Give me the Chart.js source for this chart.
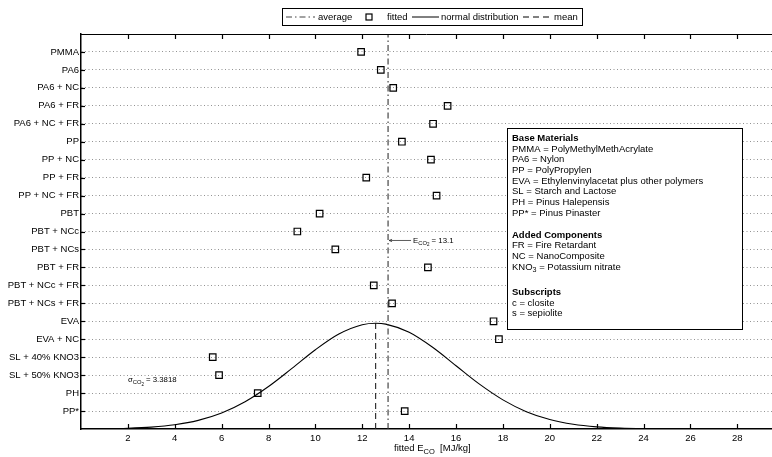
<!DOCTYPE html>
<html>
<head>
<meta charset="utf-8">
<script src="https://cdn.jsdelivr.net/npm/chart.js@4.4.0/dist/chart.umd.min.js"></script>
<style>
body { margin: 0; background: #fff; }
#wrap { width: 772px; height: 457px; position: relative; }
</style>
</head>
<body>
<div id="wrap"><canvas id="ecoChart"></canvas></div>
<script>
"use strict";

// Materials, top to bottom
var materials = ['PMMA', 'PA6', 'PA6 + NC', 'PA6 + FR', 'PA6 + NC + FR', 'PP', 'PP + NC', 'PP + FR',
    'PP + NC + FR', 'PBT', 'PBT + NCc', 'PBT + NCs', 'PBT + FR', 'PBT + NCc + FR', 'PBT + NCs + FR',
    'EVA', 'EVA + NC', 'SL + 40% KNO3', 'SL + 50% KNO3', 'PH', 'PP*'];

// Fitted E_CO [MJ/kg] for each material
var fittedEco = [11.95, 12.79, 13.32, 15.64, 15.02, 13.69, 14.93, 12.17,
    15.17, 10.18, 9.23, 10.85, 14.80, 12.49, 13.27,
    17.60, 17.83, 5.62, 5.89, 7.54, 13.81];

var averageEco = 13.1;
var meanEco = 12.57;
var sigmaEco = 3.3818;
var curvePeak = 5.89;

// Normal distribution curve as drawn (heights in row units)
var curveX = [0, 1, 2, 3, 4, 5, 6, 7, 8, 9, 10, 11, 12, 12.57, 13, 14, 15, 16, 17, 18, 19, 20, 21, 22, 23, 24, 25];
var curveY = [0.006, 0.017, 0.045, 0.107, 0.237, 0.481, 0.892, 1.517, 2.364, 3.374, 4.413, 5.288, 5.807, 5.89,
    5.842, 5.386, 4.550, 3.522, 2.497, 1.623, 0.966, 0.527, 0.263, 0.121, 0.051, 0.019, 0.007];

var xTicks = [2, 4, 6, 8, 10, 12, 14, 16, 18, 20, 22, 24, 26, 28];
var legendLabels = ['average', 'fitted', 'normal distribution', 'mean'];

var baseMaterials = ['PMMA = PolyMethylMethAcrylate', 'PA6 = Nylon', 'PP = PolyPropylen',
    'EVA = Ethylenvinylacetat plus other polymers', 'SL = Starch and Lactose',
    'PH = Pinus Halepensis', 'PP* = Pinus Pinaster'];
var addedComponents = ['FR = Fire Retardant', 'NC = NanoComposite', 'KNO_3 = Potassium nitrate'];
var subscriptNotes = ['c = closite', 's = sepiolite'];

var FONT = '"Liberation Sans", Arial, Helvetica, sans-serif';
var rowCount = materials.length;

// draw text pieces one after another, returns end x
function drawParts(ctx, x, y, parts) {
    for (var i = 0; i < parts.length; i++) {
        var p = parts[i];
        ctx.font = (p.bold ? 'bold ' : '') + p.size + 'px ' + FONT;
        ctx.fillText(p.text, x, y + (p.dy || 0));
        x += ctx.measureText(p.text).width;
    }
    return x;
}

function lineParts(text, size, bold) {
    var k = text.indexOf('_');
    if (k < 0) return [{ text: text, size: size, bold: bold }];
    return [
        { text: text.slice(0, k), size: size, bold: bold },
        { text: text.charAt(k + 1), size: size * 0.75, dy: 3.5 },
        { text: text.slice(k + 2), size: size, bold: bold }
    ];
}

function drawLegend(ctx) {
    ctx.save();
    ctx.fillStyle = '#fff';
    ctx.fillRect(282, 8, 300, 17);
    ctx.strokeStyle = '#000';
    ctx.lineWidth = 1;
    ctx.strokeRect(282.5, 8.5, 300, 17);
    var cy = 17;
    // average (dash-dot)
    ctx.setLineDash([6, 3, 1.5, 3]);
    ctx.strokeStyle = '#444';
    ctx.beginPath(); ctx.moveTo(286, cy); ctx.lineTo(315, cy); ctx.stroke();
    // normal distribution (solid)
    ctx.setLineDash([]);
    ctx.strokeStyle = '#000';
    ctx.beginPath(); ctx.moveTo(412, cy); ctx.lineTo(439, cy); ctx.stroke();
    // mean (dashed)
    ctx.setLineDash([6, 4]);
    ctx.beginPath(); ctx.moveTo(523, cy); ctx.lineTo(551, cy); ctx.stroke();
    ctx.setLineDash([]);
    // fitted marker
    ctx.lineWidth = 1.2;
    ctx.strokeRect(366, cy - 3, 6, 6);
    ctx.fillStyle = '#000';
    ctx.textBaseline = 'middle';
    ctx.font = '9.5px ' + FONT;
    ctx.fillText(legendLabels[0], 318, cy);
    ctx.fillText(legendLabels[1], 387, cy);
    ctx.fillText(legendLabels[2], 441, cy);
    ctx.fillText(legendLabels[3], 554, cy);
    ctx.restore();
}

function drawInfoBox(ctx) {
    ctx.save();
    ctx.fillStyle = '#fff';
    ctx.fillRect(507, 128, 235, 201);
    ctx.strokeStyle = '#000';
    ctx.lineWidth = 1;
    ctx.strokeRect(507.5, 128.5, 235, 201);
    ctx.fillStyle = '#000';
    ctx.textBaseline = 'middle';
    var lh = 10.67;
    var x0 = 512;
    var y = 138.3;
    drawParts(ctx, x0, y, lineParts('Base Materials', 9.5, true));
    baseMaterials.forEach(function (t, i) { drawParts(ctx, x0, y + (i + 1) * lh, lineParts(t, 9.5)); });
    y = 235;
    drawParts(ctx, x0, y, lineParts('Added Components', 9.5, true));
    addedComponents.forEach(function (t, i) { drawParts(ctx, x0, y + (i + 1) * lh, lineParts(t, 9.5)); });
    y = 292.3;
    drawParts(ctx, x0, y, lineParts('Subscripts', 9.5, true));
    subscriptNotes.forEach(function (t, i) { drawParts(ctx, x0, y + (i + 1) * lh, lineParts(t, 9.5)); });
    ctx.restore();
}

var decorPlugin = {
    id: 'decor',
    afterDatasetsDraw: function (chart) {
        var ctx = chart.ctx;
        var area = chart.chartArea;
        var xs = chart.scales.x;
        var ys = chart.scales.y;
        ctx.save();
        // top frame line
        ctx.strokeStyle = '#000';
        ctx.lineWidth = 1;
        ctx.beginPath(); ctx.moveTo(area.left, area.top + 0.5); ctx.lineTo(area.right, area.top + 0.5); ctx.stroke();
        // inward tick marks
        ctx.lineWidth = 1.2;
        xTicks.forEach(function (v) {
            var px = Math.round(xs.getPixelForValue(v)) + 0.5;
            ctx.beginPath();
            ctx.moveTo(px, area.bottom); ctx.lineTo(px, area.bottom - 5);
            ctx.moveTo(px, area.top); ctx.lineTo(px, area.top + 5);
            ctx.stroke();
        });
        for (var r = 1; r <= rowCount; r++) {
            var py = Math.round(ys.getPixelForValue(r)) + 0.5;
            ctx.beginPath(); ctx.moveTo(area.left, py); ctx.lineTo(area.left + 4, py); ctx.stroke();
        }

        // E_CO2 annotation with leader arrow
        ctx.lineWidth = 0.8;
        ctx.strokeStyle = '#333';
        var ax = xs.getPixelForValue(averageEco) + 1;
        var ay = ys.getPixelForValue(10.5);
        ctx.beginPath(); ctx.moveTo(ax, ay); ctx.lineTo(ax + 22, ay); ctx.stroke();
        ctx.beginPath(); ctx.moveTo(ax, ay); ctx.lineTo(ax + 3, ay - 1.2); ctx.moveTo(ax, ay); ctx.lineTo(ax + 3, ay + 1.2); ctx.stroke();
        ctx.fillStyle = '#000';
        ctx.textBaseline = 'middle';
        drawParts(ctx, ax + 24, ay, [
            { text: 'E', size: 7.8 },
            { text: 'CO', size: 5.8, dy: 2.5 },
            { text: '2', size: 4.5, dy: 4.5 },
            { text: ' = ' + averageEco, size: 7.8 }
        ]);

        // sigma annotation
        drawParts(ctx, xs.getPixelForValue(2.0), ys.getPixelForValue(2.73), [
            { text: '\u03c3', size: 7.8 },
            { text: 'CO', size: 5.8, dy: 2.5 },
            { text: '2', size: 4.5, dy: 4.5 },
            { text: ' = ' + sigmaEco, size: 7.8 }
        ]);

        drawInfoBox(ctx);
        ctx.restore();
    },
    afterDraw: function (chart) {
        var ctx = chart.ctx;
        ctx.save();
        ctx.fillStyle = '#000';
        ctx.textBaseline = 'middle';
        // x axis title with subscript
        drawParts(ctx, 394, 448, [
            { text: 'fitted E', size: 9.5 },
            { text: 'CO', size: 7.5, dy: 3.5 },
            { text: '  [MJ/kg]', size: 9.5 }
        ]);
        drawLegend(ctx);
        ctx.restore();
    }
};

var fittedPoints = fittedEco.map(function (v, i) {
    return { x: v, y: rowCount - i };
});
var curvePoints = curveX.map(function (v, i) {
    return { x: v, y: curveY[i] };
});

Chart.defaults.font.family = FONT;
Chart.defaults.font.size = 9.5;
Chart.defaults.color = '#000';

var ctx = document.getElementById('ecoChart').getContext('2d');
var chart = new Chart(ctx, {
    type: 'scatter',
    data: {
        datasets: [{
            label: legendLabels[0],
            type: 'line',
            data: [{ x: averageEco, y: 0 }, { x: averageEco, y: rowCount + 1 }],
            borderColor: '#333',
            borderWidth: 1.1,
            borderDash: [6, 3, 1.5, 3],
            pointRadius: 0,
            fill: false
        }, {
            label: legendLabels[1],
            data: fittedPoints,
            pointStyle: 'rect',
            pointRadius: 4.6,
            pointHoverRadius: 4.6,
            borderColor: '#000',
            borderWidth: 1.2,
            backgroundColor: 'rgba(0,0,0,0)'
        }, {
            label: legendLabels[2],
            type: 'line',
            data: curvePoints,
            borderColor: '#000',
            borderWidth: 1.1,
            pointRadius: 0,
            cubicInterpolationMode: 'monotone',
            fill: false
        }, {
            label: legendLabels[3],
            type: 'line',
            data: [{ x: meanEco, y: 0 }, { x: meanEco, y: curvePeak }],
            borderColor: '#222',
            borderWidth: 1.1,
            borderDash: [6, 4],
            pointRadius: 0,
            fill: false
        }]
    },
    options: {
        responsive: true,
        maintainAspectRatio: false,
        animation: false,
        layout: { autoPadding: false, padding: { top: 34, right: 0, left: 0, bottom: 0 } },
        plugins: {
            legend: { display: false },
            tooltip: { enabled: false }
        },
        scales: {
            x: {
                type: 'linear',
                min: 0,
                max: 29.48,
                afterBuildTicks: function (scale) {
                    scale.ticks = xTicks.map(function (v) { return { value: v }; });
                },
                afterFit: function (scale) {
                    scale.height = 28;
                    scale.paddingLeft = 0;
                    scale.paddingRight = 0;
                },
                ticks: { padding: 4, font: { size: 9.5 }, maxRotation: 0, autoSkip: false },
                grid: { drawOnChartArea: false, drawTicks: false },
                border: { display: true, color: '#000', width: 1.5 }
            },
            y: {
                type: 'linear',
                min: 0,
                max: rowCount + 1,
                afterBuildTicks: function (scale) {
                    scale.ticks = materials.map(function (m, i) { return { value: rowCount - i }; });
                },
                afterFit: function (scale) {
                    scale.width = 81;
                    scale.paddingTop = 0;
                    scale.paddingBottom = 0;
                },
                ticks: {
                    padding: 2,
                    autoSkip: false,
                    font: { size: 9.5 },
                    callback: function (value) { return materials[rowCount - value]; }
                },
                grid: { color: '#777', lineWidth: 0.8, drawTicks: false },
                border: { display: true, color: '#000', width: 1.5, dash: [1, 2.5] }
            }
        }
    },
    plugins: [decorPlugin]
});
</script>
</body>
</html>
